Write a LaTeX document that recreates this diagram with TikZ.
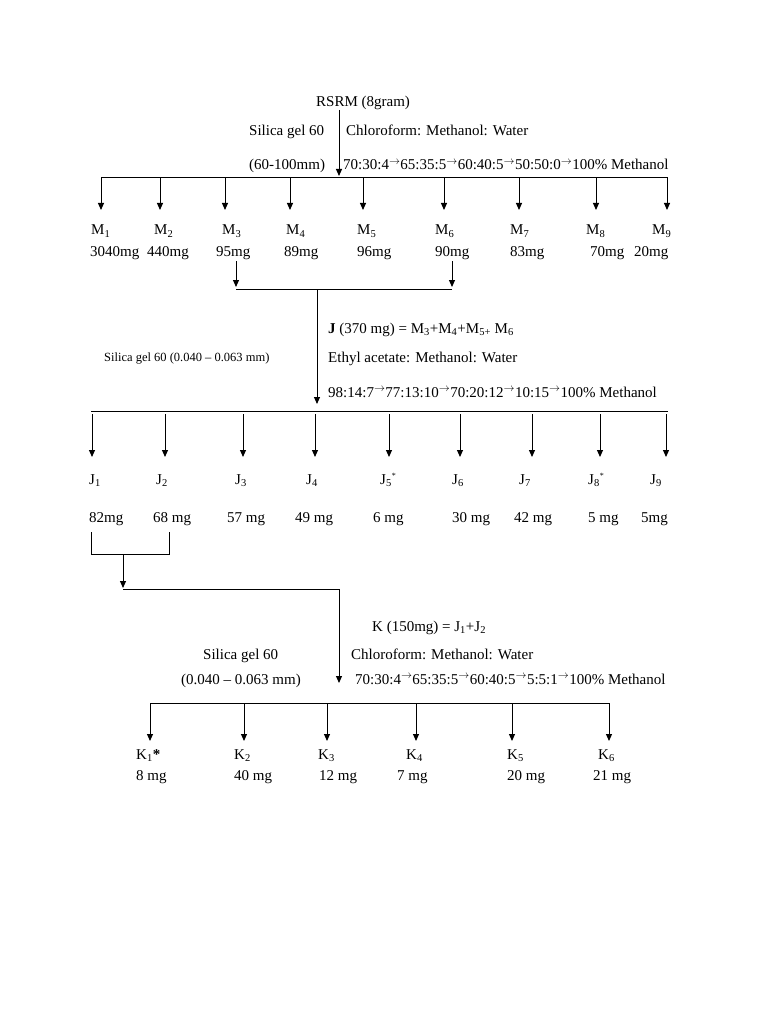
\documentclass[tikz,border=0pt]{standalone}
\usepackage{fontspec}
\setmainfont{Liberation Serif}
\usetikzlibrary{arrows.meta}
\newcommand{\myarr}{\textsuperscript{$\rightarrow$}}
\newcommand{\sbs}[1]{\textsubscript{#1}}
\begin{document}
\begin{tikzpicture}[x=1pt,y=-1pt,
  lbl/.style={anchor=base west,inner sep=0pt,font=\fontsize{15}{18}\selectfont},
  small/.style={anchor=base west,inner sep=0pt,font=\fontsize{12.5}{15}\selectfont},
  ln/.style={line width=1pt},
  arr/.style={line width=1pt,-{Triangle[length=7pt,width=6pt]}}
]
\useasboundingbox[fill=white] (0,0) rectangle (768,1024);

% ---------- first column ----------
\node[lbl] (rsrm) at (316,107) {RSRM (8gram)};
\node[lbl] (sg1) at (249,136) {Silica gel 60};
\node[lbl] (solv1) at (346,136) {Chloroform: Methanol: Water};
\node[lbl] (size1) at (249,170) {(60-100mm)};
\node[lbl] (grad1) at (343,170) {70:30:4\myarr65:35:5\myarr60:40:5\myarr50:50:0\myarr100\% Methanol};
\coordinate (t1) at (339,110);
\coordinate (b1) at (339,176);
\coordinate (h1L) at (101,178);
\coordinate (h1R) at (668,178);
\draw[arr] (t1) -- (b1);
\draw[ln] (h1L) -- (h1R);

\foreach \i/\x/\lx/\mx/\mass in {1/101/91/90/3040mg,2/160/154/147/440mg,3/225/222/216/95mg,4/290/286/284/89mg,5/363/357/357/96mg,6/444/435/435/90mg,7/519/510/510/83mg,8/596/586/590/70mg,9/667/652/634/20mg}{
  \coordinate (ma\i) at (\x,178);
  \coordinate (mb\i) at (\x,210);
  \draw[arr] (ma\i) -- (mb\i);
  \node[lbl] (m\i) at (\lx,235) {M\sbs{\i}};
  \node[lbl] (mm\i) at (\mx,256) {\mass};
}

% ---------- pooling M3..M6 ----------
\coordinate (p3) at (236,261);
\coordinate (q3) at (236,287);
\coordinate (p6) at (452,261);
\coordinate (q6) at (452,287);
\coordinate (jtop) at (317,289);
\coordinate (jbot) at (317,404);
\draw[arr] (p3) -- (q3);
\draw[arr] (p6) -- (q6);
\draw[ln] (236,289) -- (452,289);
\draw[arr] (jtop) -- (jbot);

\node[lbl] (jdef) at (328,333) {\textbf{J} (370 mg) = M\sbs{3}+M\sbs{4}+M\sbs{5+} M\sbs{6}};
\node[small] (sg2) at (104,361) {Silica gel 60 (0.040 -- 0.063 mm)};
\node[lbl] (solv2) at (328,362) {Ethyl acetate: Methanol: Water};
\node[lbl] (grad2) at (328,397) {98:14:7\myarr77:13:10\myarr70:20:12\myarr10:15\myarr100\% Methanol};

\coordinate (h2L) at (91,411);
\coordinate (h2R) at (668,411);
\draw[ln] (h2L) -- (h2R);

\foreach \i/\x/\lx/\mx/\mass/\st in {1/92/89/89/82mg/,2/165/156/153/68 mg/,3/243/235/227/57 mg/,4/315/306/295/49 mg/,5/389/380/373/6 mg/*,6/460/452/452/30 mg/,7/532/519/514/42 mg/,8/600/588/588/5 mg/*,9/666/650/641/5mg/}{
  \coordinate (ja\i) at (\x,414);
  \coordinate (jb\i) at (\x,457);
  \draw[arr] (ja\i) -- (jb\i);
  \node[lbl] (j\i) at (\lx,484) {J\sbs{\i}\textsuperscript{\footnotesize\st}};
  \node[lbl] (jm\i) at (\mx,522) {\mass};
}

% ---------- pooling J1+J2 ----------
\coordinate (r1) at (91,532);
\coordinate (r2) at (91,554);
\coordinate (r3) at (169,554);
\coordinate (r4) at (169,532);
\draw[ln] (r1) -- (r2) -- (r3) -- (r4);
\coordinate (ka) at (123,554);
\coordinate (kb) at (123,588);
\draw[arr] (ka) -- (kb);
\coordinate (kc) at (339,589);
\coordinate (kd) at (339,683);
\draw[ln] (123,589) -- (kc);
\draw[arr] (kc) -- (kd);

\node[lbl] (kdef) at (372,631) {K (150mg) = J\sbs{1}+J\sbs{2}};
\node[lbl] (sg3) at (203,659) {Silica gel 60};
\node[lbl] (solv3) at (351,659) {Chloroform: Methanol: Water};
\node[lbl] (size3) at (181,684) {(0.040 -- 0.063 mm)};
\node[lbl] (grad3) at (355,684) {70:30:4\myarr65:35:5\myarr60:40:5\myarr5:5:1\myarr100\% Methanol};

\coordinate (h3L) at (150,703);
\coordinate (h3R) at (609,703);
\draw[ln] (h3L) -- (h3R);

\foreach \i/\x/\lx/\mx/\mass/\st in {1/150/136/136/8 mg/\textbf{*},2/244/234/234/40 mg/,3/327/318/319/12 mg/,4/416/406/397/7 mg/,5/512/507/507/20 mg/,6/609/598/593/21 mg/}{
  \coordinate (ka\i) at (\x,703);
  \coordinate (kb\i) at (\x,741);
  \draw[arr] (ka\i) -- (kb\i);
  \node[lbl] (k\i) at (\lx,759) {K\sbs{\i}\st};
  \node[lbl] (km\i) at (\mx,780) {\mass};
}
\end{tikzpicture}
\end{document}
